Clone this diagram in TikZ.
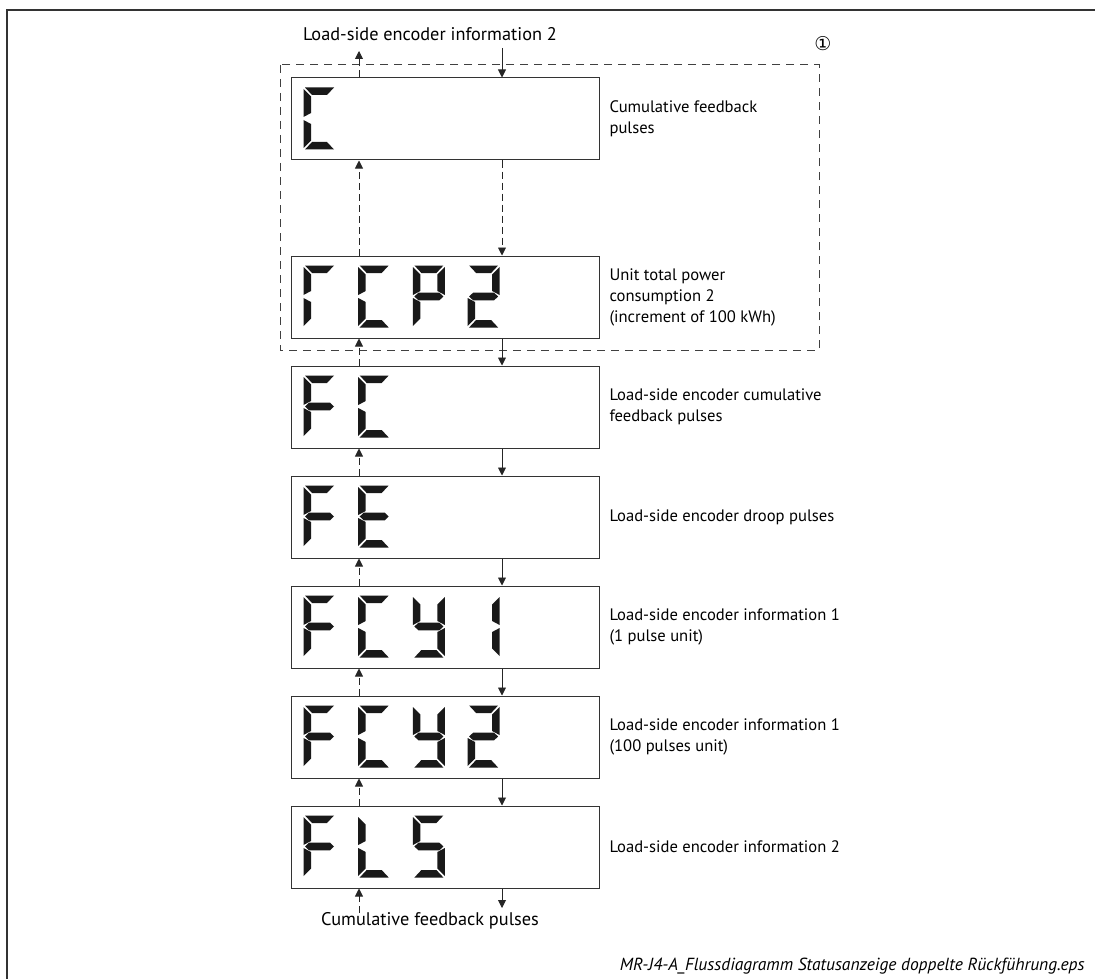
\documentclass[tikz,border=0pt]{standalone}
\usepackage{fontspec}
\setmainfont{PT Sans}
\newfontfamily\symfont{DejaVu Sans}
\usetikzlibrary{arrows.meta,positioning,calc}

% seven segment shapes, digit 32 x 62, y downwards
\newcommand\sga{(1.5,0)--(30.5,0)--(23.5,7.5)--(8.5,7.5)--cycle}
\newcommand\sgb{(32,1.5)--(32,29.5)--(24.5,25.5)--(24.5,9)--cycle}
\newcommand\sgc{(32,32.5)--(32,60.5)--(24.5,53)--(24.5,36.5)--cycle}
\newcommand\sgd{(1.5,62)--(30.5,62)--(23.5,54.5)--(8.5,54.5)--cycle}
\newcommand\sge{(0,32.5)--(0,60.5)--(7.5,53)--(7.5,36.5)--cycle}
\newcommand\sgf{(0,1.5)--(0,29.5)--(7.5,25.5)--(7.5,9)--cycle}
\newcommand\sgg{(1.5,31)--(5.5,27.2)--(26.5,27.2)--(30.5,31)--(26.5,34.8)--(5.5,34.8)--cycle}
\newcommand\lcd[3]{\foreach \s in {#3}{\fill[seg,shift={($(#1.north west)+(13+54.7*#2,10)$)}] \csname sg\s\endcsname;}}

\begin{document}
\begin{tikzpicture}[x=1pt,y=-1pt,font=\fontsize{18.3}{21}\selectfont,
  box/.style={draw=black!80,line width=1pt,minimum width=308pt,minimum height=82pt,inner sep=0pt},
  seg/.style={fill=black!90},
  lbl/.style={right=6.5pt of #1,align=left,font=\fontsize{16.6}{21}\selectfont},
  arr/.style={-{Triangle[width=8pt,length=8pt]},line width=0.9pt,draw=black!85},
  dsh/.style={arr,dash pattern=on 7pt off 4pt},
  grp/.style={line width=1pt,draw=black!75,dash pattern=on 8pt off 6pt}]
\useasboundingbox (0,0) rectangle (1095,979);
\draw[line width=2pt,black!80] (7,979) -- (7,10) -- (1095,10);

\node[box](dC) at (445,119){};
\node[box,below=95pt of dC](drCP2){};
\node[box,below=27pt of drCP2](dFC){};
\node[box,below=27pt of dFC](dFE){};
\node[box,below=27pt of dFE](dFCy1){};
\node[box,below=27pt of dFCy1](dFCy2){};
\node[box,below=27pt of dFCy2](dFLS){};

\lcd{dC}{0}{a,d,e,f}
\lcd{drCP2}{0}{a,e,f}
\lcd{drCP2}{1}{a,d,e,f}
\lcd{drCP2}{2}{a,b,e,f,g}
\lcd{drCP2}{3}{a,b,d,e,g}
\lcd{dFC}{0}{a,e,f,g}
\lcd{dFC}{1}{a,d,e,f}
\lcd{dFE}{0}{a,e,f,g}
\lcd{dFE}{1}{a,d,e,f,g}
\lcd{dFCy1}{0}{a,e,f,g}
\lcd{dFCy1}{1}{a,d,e,f}
\lcd{dFCy1}{2}{b,c,d,f,g}
\lcd{dFCy1}{3}{b,c}
\lcd{dFCy2}{0}{a,e,f,g}
\lcd{dFCy2}{1}{a,d,e,f}
\lcd{dFCy2}{2}{b,c,d,f,g}
\lcd{dFCy2}{3}{a,b,d,e,g}
\lcd{dFLS}{0}{a,e,f,g}
\lcd{dFLS}{1}{d,e,f}
\lcd{dFLS}{2}{a,c,d,f,g}

\node[lbl=dC](tC){Cumulative feedback\\pulses};
\node[lbl=drCP2](trCP2){Unit total power\\consumption 2\\(increment of 100 kWh)};
\node[lbl=dFC](tFC){Load-side encoder cumulative\\feedback pulses};
\node[lbl=dFE](tFE){Load-side encoder droop pulses};
\node[lbl=dFCy1](tFCy1){Load-side encoder information 1\\(1 pulse unit)};
\node[lbl=dFCy2](tFCy2){Load-side encoder information 1\\(100 pulses unit)};
\node[lbl=dFLS](tFLS){Load-side encoder information 2};

\node(tTop) at (430,34){Load-side encoder information 2};
\node(tBot) at (430,921){Cumulative feedback pulses};
\draw[grp] (280,65) rectangle (819,350);
\node[font=\symfont\fontsize{19}{19}\selectfont](n1) at (823,44){①};

\coordinate (xl) at (359,0);
\coordinate (xr) at (502,0);
\coordinate (outT) at (359,51);
\coordinate (inT) at (502,48);
\coordinate (inB) at (359,913);
\coordinate (outB) at (502,908);

\draw[dsh] (dC.north -| xl) -- (outT);
\draw[arr] (inT) -- (dC.north -| xr);
\draw[dsh] (drCP2.north -| xl) -- (dC.south -| xl);
\draw[dsh] (dC.south -| xr) -- (drCP2.north -| xr);
\draw[dsh] (dFC.north -| xl) -- (drCP2.south -| xl);
\draw[arr] (drCP2.south -| xr) -- (dFC.north -| xr);
\draw[dsh] (dFE.north -| xl) -- (dFC.south -| xl);
\draw[arr] (dFC.south -| xr) -- (dFE.north -| xr);
\draw[dsh] (dFCy1.north -| xl) -- (dFE.south -| xl);
\draw[arr] (dFE.south -| xr) -- (dFCy1.north -| xr);
\draw[dsh] (dFCy2.north -| xl) -- (dFCy1.south -| xl);
\draw[arr] (dFCy1.south -| xr) -- (dFCy2.north -| xr);
\draw[dsh] (dFLS.north -| xl) -- (dFCy2.south -| xl);
\draw[arr] (dFCy2.south -| xr) -- (dFLS.north -| xr);
\draw[dsh] (inB) -- (dFLS.south -| xl);
\draw[arr] (dFLS.south -| xr) -- (outB);

\node[anchor=base east,font=\itshape\fontsize{17.5}{17.5}\selectfont](cap) at (1088,970){MR-J4-A\_Flussdiagramm Statusanzeige doppelte Rückführung.eps};
\end{tikzpicture}
\end{document}
